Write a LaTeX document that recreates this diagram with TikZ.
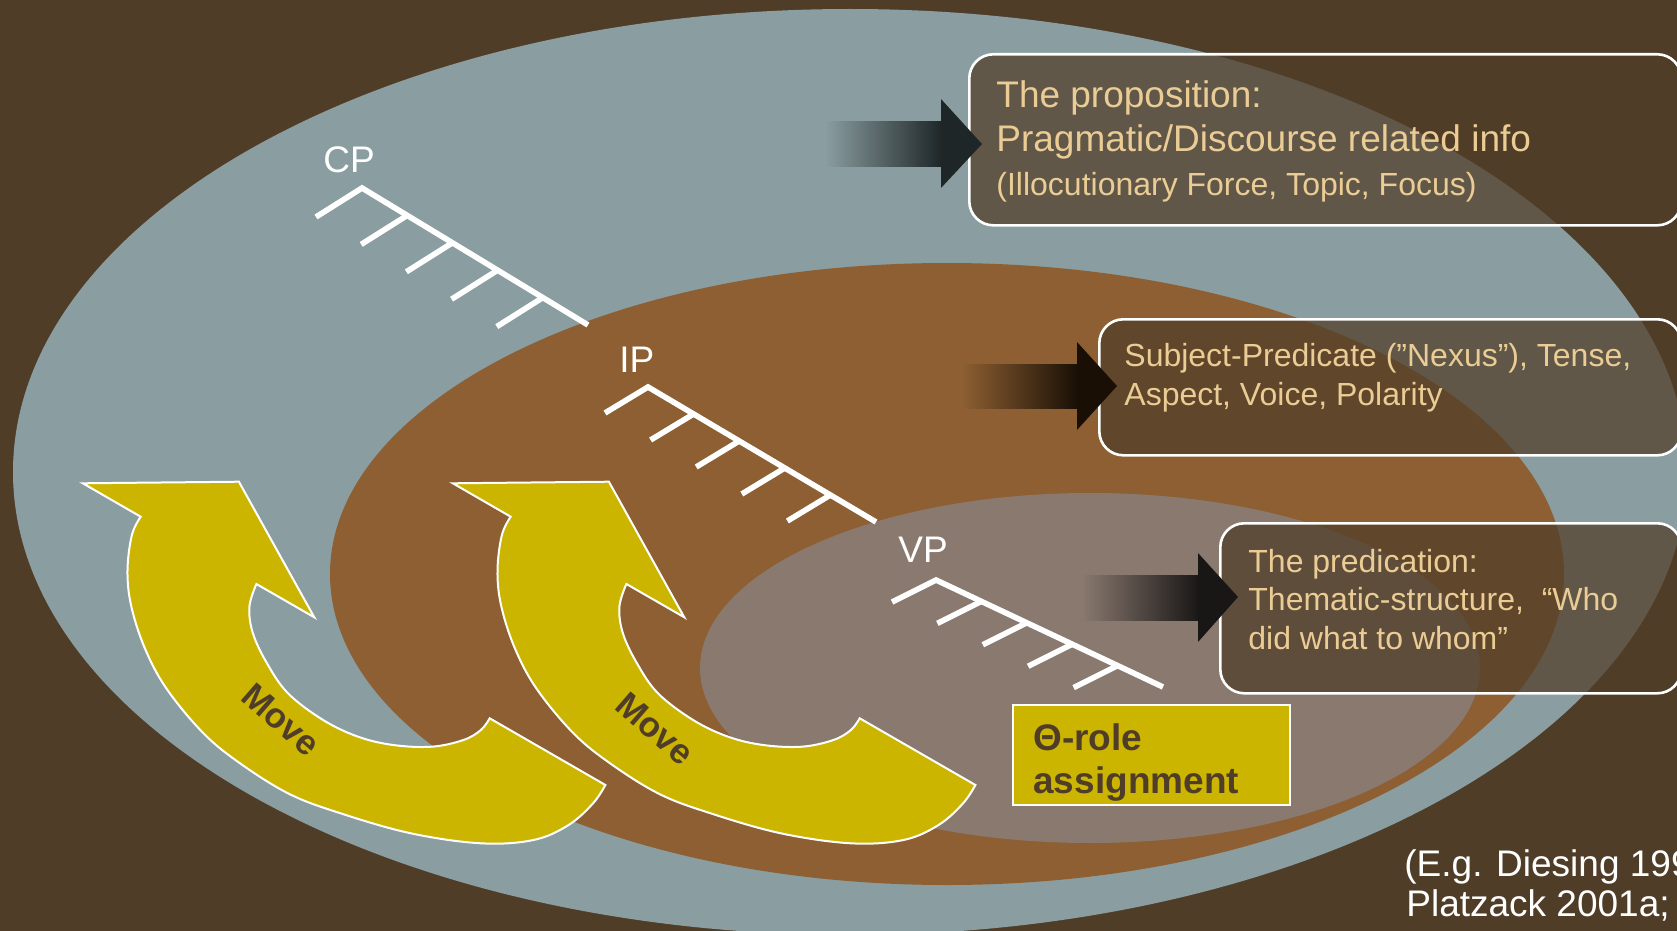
\documentclass[tikz,border=0pt]{standalone}
\usepackage{fontspec}
\setmainfont{Liberation Sans}
\usetikzlibrary{calc}
\definecolor{bgc}{RGB}{80,61,40}
\definecolor{cpc}{RGB}{138,157,160}
\definecolor{ipc}{RGB}{141,95,50}
\definecolor{vpc}{RGB}{137,121,111}
\definecolor{yel}{RGB}{204,181,0}
\definecolor{beige}{RGB}{234,204,148}
\definecolor{darkA}{RGB}{30,38,40}
\definecolor{darkB}{RGB}{25,15,5}
\definecolor{darkC}{RGB}{25,23,22}
\begin{document}
\begin{tikzpicture}[x=0.5pt,y=-0.5pt,
  treeline/.style={white,line width=2.8pt},
  movearrow/.style={fill=yel,draw=white,line width=1pt},
  infobox/.style={draw=white,line width=1.3pt,fill=bgc,fill opacity=0.72,rounded corners=12pt,anchor=north west,inner sep=0pt},
  boxtext/.style={anchor=base west,inner sep=0pt,text=beige},
  bigtxt/.style={font=\fontsize{18.5}{22}\selectfont},
  smalltxt/.style={font=\fontsize{16}{19}\selectfont},
  phraselabel/.style={anchor=base west,inner sep=0pt,text=white,font=\fontsize{18.5}{22}\selectfont},
  movetxt/.style={rotate=-41,inner sep=0pt,text=bgc,font=\bfseries\fontsize{17.5}{20}\selectfont},
  thetatxt/.style={anchor=base west,inner sep=0pt,text=bgc,font=\bfseries\fontsize{18.5}{22}\selectfont},
  reftxt/.style={anchor=base west,inner sep=0pt,text=white,font=\fontsize{18.5}{22}\selectfont}]
\useasboundingbox (0,0) rectangle (1677,931);
\clip (0,0) rectangle (1677,931);
\fill[bgc] (0,0) rectangle (1677,931);
% nested ellipses
\fill[cpc] (850,472) ellipse [x radius=418.5pt, y radius=231.5pt];
\fill[ipc] (947,574) ellipse [x radius=308.5pt, y radius=155.5pt];
\fill[vpc] (1090,668) ellipse [x radius=195pt, y radius=87.5pt];
% trees
\coordinate (cpA) at (362,188); \coordinate (cpE) at (588,325);
\coordinate (ipA) at (648,387); \coordinate (ipE) at (876,522);
\coordinate (vpA) at (936,580); \coordinate (vpE) at (1163,687);
\draw[treeline] ($(cpA)+(-46,29)$) -- (cpA) -- (cpE);
\foreach \t in {0.2,0.4,0.6,0.8} \draw[treeline] ($(cpA)!\t!(cpE)$) -- ++(-46,29);
\draw[treeline] ($(ipA)+(-43,26)$) -- (ipA) -- (ipE);
\foreach \t in {0.2,0.4,0.6,0.8} \draw[treeline] ($(ipA)!\t!(ipE)$) -- ++(-43,26);
\draw[treeline] ($(vpA)+(-44,22)$) -- (vpA) -- (vpE);
\foreach \t in {0.2,0.4,0.6,0.8} \draw[treeline] ($(vpA)!\t!(vpE)$) -- ++(-44,22);
\node[phraselabel] (cp) at (323,172) {CP};
\node[phraselabel] (ip) at (619,372) {IP};
\node[phraselabel] (vp) at (898,562) {VP};
% move arrows
\foreach \dx in {0,370}{
\path[movearrow,shift={(\dx,0)}] (140.7,516.7) -- (82.8,483.3) -- (238.9,481.7) -- (314.3,617.3) -- (256.4,584)
  -- plot[smooth,tension=0.6] coordinates {(256.4,584) (249.4,606.7) (252.9,633.3) (267,663.3) (288,693.3) (323.1,720) (358.1,736.7) (393.2,745) (431.8,746.7) (463.4,740) (480.9,730) (489.7,718.3)}
  -- (605.4,785)
  -- plot[smooth,tension=0.6] coordinates {(605.4,785) (593.1,803.3) (568.6,825) (533.5,840) (480.9,843.3) (410.8,833.3) (340.6,813.3) (288,793.3) (235.4,760) (200.3,730) (165.2,686.7) (144.2,646.7) (131,605) (127.5,570) (131.9,535) (140.7,516.7)}
  -- cycle;
}
\node[movetxt] (mv1) at (281,720) {Move};
\node[movetxt] (mv2) at (655,729) {Move};
% theta box
\node[draw=white,line width=1pt,fill=yel,minimum width=138.5pt,minimum height=50pt,anchor=north west,inner sep=0pt] (theta) at (1012,704) {};
\node[thetatxt] (th1) at (1033,750) {Θ-role};
\node[thetatxt] (th2) at (1033,793) {assignment};
% info boxes
\node[infobox,minimum width=356pt,minimum height=85.5pt] (b1) at (968,53) {};
\node[infobox,minimum width=291pt,minimum height=68pt] (b2) at (1098,318) {};
\node[infobox,minimum width=230.5pt,minimum height=85pt] (b3) at (1219,522) {};
\node[boxtext,bigtxt] (t1a) at (996,108) {The proposition:};
\node[boxtext,bigtxt] (t1b) at (996,152) {Pragmatic/Discourse related info};
\node[boxtext,smalltxt] (t1c) at (996,196) {(Illocutionary Force, Topic, Focus)};
\node[boxtext,smalltxt] (t2a) at (1124,366) {Subject-Predicate (”Nexus”), Tense,};
\node[boxtext,smalltxt] (t2b) at (1124,405) {Aspect, Voice, Polarity};
\node[boxtext,smalltxt] (t3a) at (1248,572) {The predication:};
\node[boxtext,smalltxt] (t3b) at (1248,610) {Thematic-structure,~ “Who};
\node[boxtext,smalltxt] (t3c) at (1248,649) {did what to whom”};
% gradient arrows
\shade[left color=cpc,right color=darkA] (825,122) rectangle (942,167);
\fill[darkA] (941,99) -- (982,144) -- (941,188) -- cycle;
\shade[left color=ipc,right color=darkB] (962,364) rectangle (1078,408);
\fill[darkB] (1077,342) -- (1117,386) -- (1077,430) -- cycle;
\shade[left color=vpc,right color=darkC] (1082,575) rectangle (1199,620);
\fill[darkC] (1198,553) -- (1238,597) -- (1198,642) -- cycle;
% reference
\node[reftxt] (r1) at (1404,876) {(E.g. Diesing 199};
\node[reftxt] (r2) at (1406,916) {Platzack 2001a;};
\end{tikzpicture}
\end{document}
